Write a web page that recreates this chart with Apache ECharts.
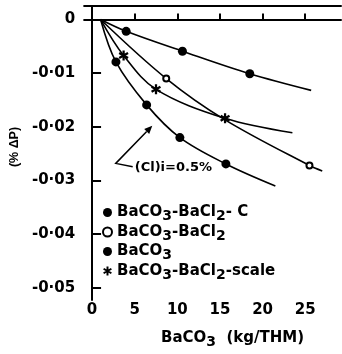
<!DOCTYPE html>
<html><head><meta charset="utf-8">
<script src="https://cdn.jsdelivr.net/npm/echarts@6/dist/echarts.min.js"></script>
<style>html,body{margin:0;padding:0;background:#fff}#c{width:342px;height:354px}</style>
</head><body><div id="c"></div>
<script>
// ---- data ----
const xTicks = [0, 5, 10, 15, 20, 25];
const yTicks = [0, -0.01, -0.02, -0.03, -0.04, -0.05];
const yTickLabels = ['0', '-0·01', '-0·02', '-0·03', '-0·04', '-0·05'];

const names = ['BaCO3-BaCl2- C', 'BaCO3-BaCl2', 'BaCO3', 'BaCO3-BaCl2-scale'];

// BaCO3-BaCl2-C (filled dots)
const cPtX = [4.0, 10.6, 18.5];
const cPtY = [-0.0022, -0.0059, -0.0101];
const cCurveX = [1, 4.0, 10.6, 18.5, 25.7];
const cCurveY = [0, -0.0022, -0.0059, -0.0101, -0.0132];

// BaCO3-BaCl2 (open circles)
const bPtX = [8.7, 25.5];
const bPtY = [-0.011, -0.0272];
const bCurveX = [1, 8.7, 15.5, 25.5, 27.0];
const bCurveY = [0, -0.011, -0.0186, -0.0272, -0.0282];

// BaCO3 (filled dots)
const aPtX = [2.8, 6.4, 10.3, 15.7];
const aPtY = [-0.0079, -0.0159, -0.0220, -0.0269];
const aCurveX = [1, 2.8, 6.4, 10.3, 15.7, 21.5];
const aCurveY = [0, -0.0079, -0.0159, -0.0220, -0.0269, -0.0310];

// BaCO3-BaCl2-scale (stars)
const sPtX = [3.7, 7.5, 15.6];
const sPtY = [-0.0067, -0.0130, -0.0184];
const sCurveX = [1, 3.7, 7.5, 15.6, 23.5];
const sCurveY = [0, -0.0067, -0.0130, -0.0184, -0.0211];

// annotation (data coordinates)
const noteText = '(Cl)i=0.5%';
const noteTextPos = [5.0, -0.0276];
const noteCorner = [2.78, -0.0268];
const noteTip = [7.06, -0.0198];

const zip = (xs, ys) => xs.map((x, i) => [x, ys[i]]);
const FONT = 'DejaVu Sans';
const star = 'path://M-1.1,-5L1.1,-5L1.1,5L-1.1,5Z M3.78,-3.45L4.88,-1.55L-3.78,3.45L-4.88,1.55Z M-4.88,-1.55L-3.78,-3.45L4.88,1.55L3.78,3.45Z';

const rich = {
  n: {fontFamily: FONT, fontWeight: 'bold', fontSize: 15, color: '#000'},
  s: {fontFamily: FONT, fontWeight: 'bold', fontSize: 14, color: '#000', padding: [8, 0, 0, 0]}
};
const chem = (t) => '{n|' + t.replace(/(\d)/g, '}{s|$1}{n|') + '}';

const chart = echarts.init(document.getElementById('c'), null, {renderer: 'canvas'});

const lineStyle = {color: '#000', width: 1.6};
function curve(xs, ys) {
  return {type: 'line', data: zip(xs, ys), symbol: 'none', smooth: 0.35,
    lineStyle: lineStyle, silent: true, z: 2};
}

chart.setOption({
  animation: false,
  backgroundColor: '#fff',
  grid: {left: 80, top: 6, right: 1, bottom: 44},
  xAxis: [{
    type: 'value', min: -0.93, max: 29.2,
    axisLine: {lineStyle: {color: '#000', width: 2}},
    axisTick: {inside: true, length: 6, lineStyle: {width: 2, color: '#000'}, customValues: xTicks},
    axisLabel: {customValues: xTicks, margin: 3, fontFamily: FONT, fontWeight: 'bold', fontSize: 15, color: '#000'},
    splitLine: {show: false},
    name: chem('BaCO3') + '{n|  (kg/THM)}', nameLocation: 'middle', nameGap: 27,
    nameTextStyle: {rich: rich, padding: [0, 0, 0, 40]}
  }, {
    type: 'value', position: 'top', min: -0.93, max: 29.2,
    axisLine: {show: true, lineStyle: {color: '#000', width: 2}},
    axisTick: {show: false}, axisLabel: {show: false}, splitLine: {show: false}
  }],
  yAxis: {
    type: 'value', min: -0.05225, max: 0.00252,
    axisLine: {show: true, lineStyle: {color: '#000', width: 2}},
    axisTick: {show: true, inside: true, length: 9, lineStyle: {width: 2, color: '#000'}, customValues: yTicks},
    axisLabel: {customValues: yTicks, margin: 9, fontFamily: FONT, fontWeight: 'bold', fontSize: 15, color: '#000',
      formatter: (v) => { const i = yTicks.findIndex(t => Math.abs(t - v) < 1e-9); return i >= 0 ? yTickLabels[i] : ''; }},
    splitLine: {show: false},
    name: '(% ΔP)', nameLocation: 'middle', nameGap: 59, nameRotate: 90,
    nameTextStyle: {fontFamily: 'Liberation Sans', fontWeight: 'bold', fontSize: 12.5, color: '#000', padding: [0, 0, 0, 12]}
  },
  legend: {
    orient: 'vertical', left: 97, top: 200, itemGap: 1,
    itemWidth: 9, itemHeight: 9,
    data: names,
    formatter: (n) => chem(n),
    textStyle: {rich: rich}
  },
  series: [
    curve(cCurveX, cCurveY), curve(bCurveX, bCurveY), curve(aCurveX, aCurveY), curve(sCurveX, sCurveY),
    {name: names[0], type: 'scatter', data: zip(cPtX, cPtY), symbol: 'circle', symbolSize: 9,
      itemStyle: {color: '#000', opacity: 1}, z: 5},
    {name: names[1], type: 'scatter', data: zip(bPtX, bPtY), symbol: 'emptyCircle', symbolSize: 6,
      itemStyle: {color: '#000', borderColor: '#000', borderWidth: 1.8, opacity: 1}, z: 5},
    {name: names[2], type: 'scatter', data: zip(aPtX, aPtY), symbol: 'circle', symbolSize: 9,
      itemStyle: {color: '#000', opacity: 1}, z: 5},
    {name: names[3], type: 'scatter', data: zip(sPtX, sPtY), symbol: star, symbolSize: 10,
      itemStyle: {color: '#000', opacity: 1}, z: 5}
  ]
});

// annotation placed from data coordinates
const p = (d) => chart.convertToPixel({gridIndex: 0}, d);
const tp = p(noteTextPos), cp = p(noteCorner), tip = p(noteTip);
const ang = Math.atan2(tip[1] - cp[1], tip[0] - cp[0]);
const L = 8, W = 3.5;
const bx = tip[0] - L * Math.cos(ang), by = tip[1] - L * Math.sin(ang);
const head = [tip,
  [bx + W * Math.sin(ang), by - W * Math.cos(ang)],
  [bx - W * Math.sin(ang), by + W * Math.cos(ang)]];
chart.setOption({
  graphic: [
    {type: 'polyline', shape: {points: [[tp[0] - 2, tp[1] - 1], cp, [bx, by]]},
      style: {stroke: '#000', lineWidth: 1.5, fill: null}, z: 10},
    {type: 'polygon', shape: {points: head}, style: {fill: '#000'}, z: 10},
    {type: 'text', x: tp[0], y: tp[1], style: {text: noteText, fontFamily: FONT, fontWeight: 'bold', fontSize: 13,
      fill: '#000', verticalAlign: 'middle', align: 'left'}, z: 10}
  ]
});
</script></body></html>
